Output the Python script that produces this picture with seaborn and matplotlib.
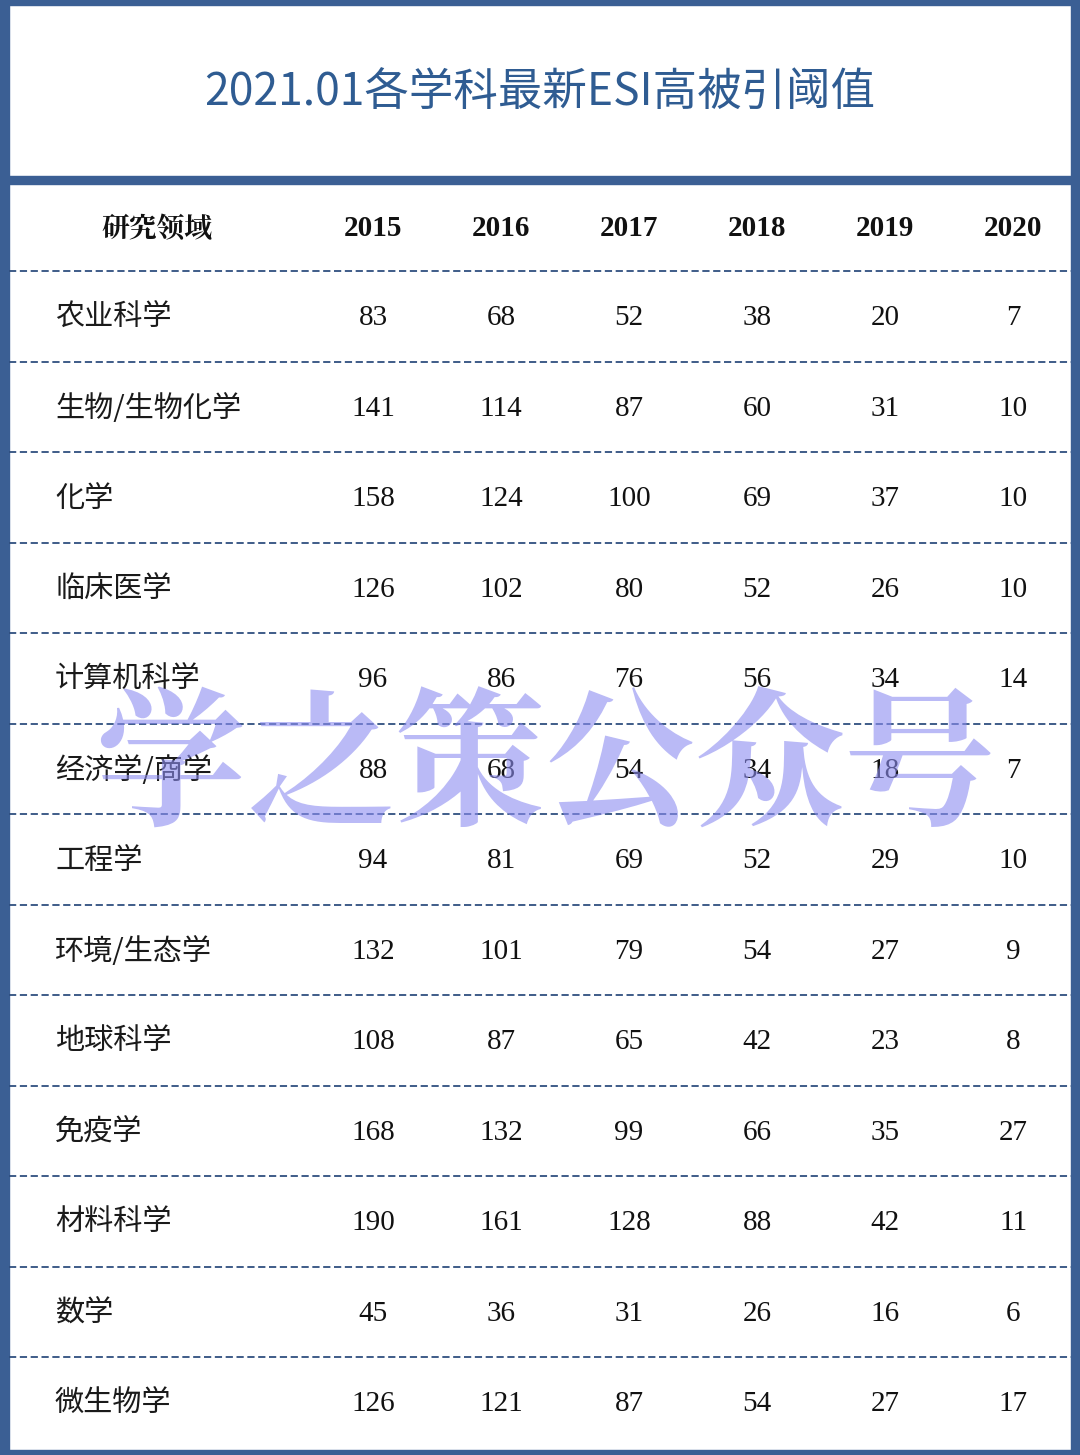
import matplotlib
matplotlib.use("Agg")
import matplotlib.pyplot as plt
from matplotlib import font_manager
import seaborn as sns
import pandas as pd
from matplotlib.patches import Rectangle

fields = ['农业科学', '生物/生物化学', '化学', '临床医学', '计算机科学', '经济学/商学',
          '工程学', '环境/生态学', '地球科学', '免疫学', '材料科学', '数学', '微生物学']
years = ['2015', '2016', '2017', '2018', '2019', '2020']
v2015 = [83, 141, 158, 126, 96, 88, 94, 132, 108, 168, 190, 45, 126]
v2016 = [68, 114, 124, 102, 86, 68, 81, 101, 87, 132, 161, 36, 121]
v2017 = [52, 87, 100, 80, 76, 54, 69, 79, 65, 99, 128, 31, 87]
v2018 = [38, 60, 69, 52, 56, 34, 52, 54, 42, 66, 88, 26, 54]
v2019 = [20, 31, 37, 26, 34, 18, 29, 27, 23, 35, 42, 16, 27]
v2020 = [7, 10, 10, 10, 14, 7, 10, 9, 8, 27, 11, 6, 17]

df = pd.DataFrame({'2015': v2015, '2016': v2016, '2017': v2017,
                   '2018': v2018, '2019': v2019, '2020': v2020}, index=fields)

# pick CJK font files by weight
cjk_fonts = [f for f in font_manager.fontManager.ttflist if 'CJK' in f.name]
sc = [f for f in cjk_fonts if 'SC' in f.name] or cjk_fonts

def pick(weight):
    def w(f):
        try:
            return int(f.weight)
        except (TypeError, ValueError):
            return {'regular': 400, 'normal': 400, 'bold': 700, 'light': 300}.get(str(f.weight).lower(), 400)
    best = min(sc, key=lambda f: abs(w(f) - weight))
    return best.fname

REG, BOLD = pick(400), pick(700)

W, H = 1080, 1455
BLUE = '#3B5F94'
fig = plt.figure(figsize=(W / 100, H / 100), dpi=100)
fig.patch.set_facecolor('white')

top, row_h = 273, 90.5
bottom = top + row_h * len(fields)
x0, x1 = 309, 1077
ax = fig.add_axes([x0 / W, 1 - bottom / H, (x1 - x0) / W, (bottom - top) / H])
sns.heatmap(df, ax=ax, cmap=matplotlib.colors.ListedColormap(['white']), cbar=False,
            annot=True, fmt='d', annot_kws={'fontfamily': 'Liberation Serif',
                                            'fontsize': 21, 'color': '#111111'})
ax.set_xticks([]); ax.set_yticks([])
ax.set_xlabel(''); ax.set_ylabel('')
for s in ax.spines.values():
    s.set_visible(False)

ov = fig.add_axes([0, 0, 1, 1])
ov.set_xlim(0, W); ov.set_ylim(H, 0)
ov.axis('off'); ov.patch.set_alpha(0)

ov.add_patch(Rectangle((0, 0), 9, H, color=BLUE))
ov.add_patch(Rectangle((W - 9, 0), 9, H, color=BLUE))
ov.add_patch(Rectangle((0, 0), W, 5, color=BLUE))
ov.add_patch(Rectangle((0, 176), W, 8, color=BLUE))
ov.add_patch(Rectangle((0, H - 5), W, 5, color=BLUE))

def cjk_text(x, y, s, size, bold=False, **kw):
    fp = font_manager.FontProperties(fname=BOLD if bold else REG, size=size)
    ov.text(x, y, s, fontproperties=fp, **kw)

cjk_text(540, 93, '2021.01各学科最新ESI高被引阈值', 32, ha='center', va='center',
         color='#2F5C92')

cjk_text(157, 229, '研究领域', 20, bold=True, ha='center', va='center', color='#111111')
for i, y in enumerate(years):
    ov.text(x0 + 64 + 128 * i, 229, y, ha='center', va='center', fontsize=21,
            fontweight='bold', fontfamily='Liberation Serif', color='#111111')

for i, f in enumerate(fields):
    yc = top + row_h * (i + 0.5)
    cjk_text(55, yc, f, 21, ha='left', va='center', color='#1a1a1a')
for i in range(len(fields)):
    yl = top - 2 + row_h * i
    ov.plot([9, W - 9], [yl, yl], ls=(0, (4, 2)), color='#2F4F7F', lw=1.3)

cjk_text(545, 772, '学之策公众号', 108, bold=True, ha='center', va='center',
         color='#8C8CF0', alpha=0.6)

fig.savefig('out.png', dpi=100)
